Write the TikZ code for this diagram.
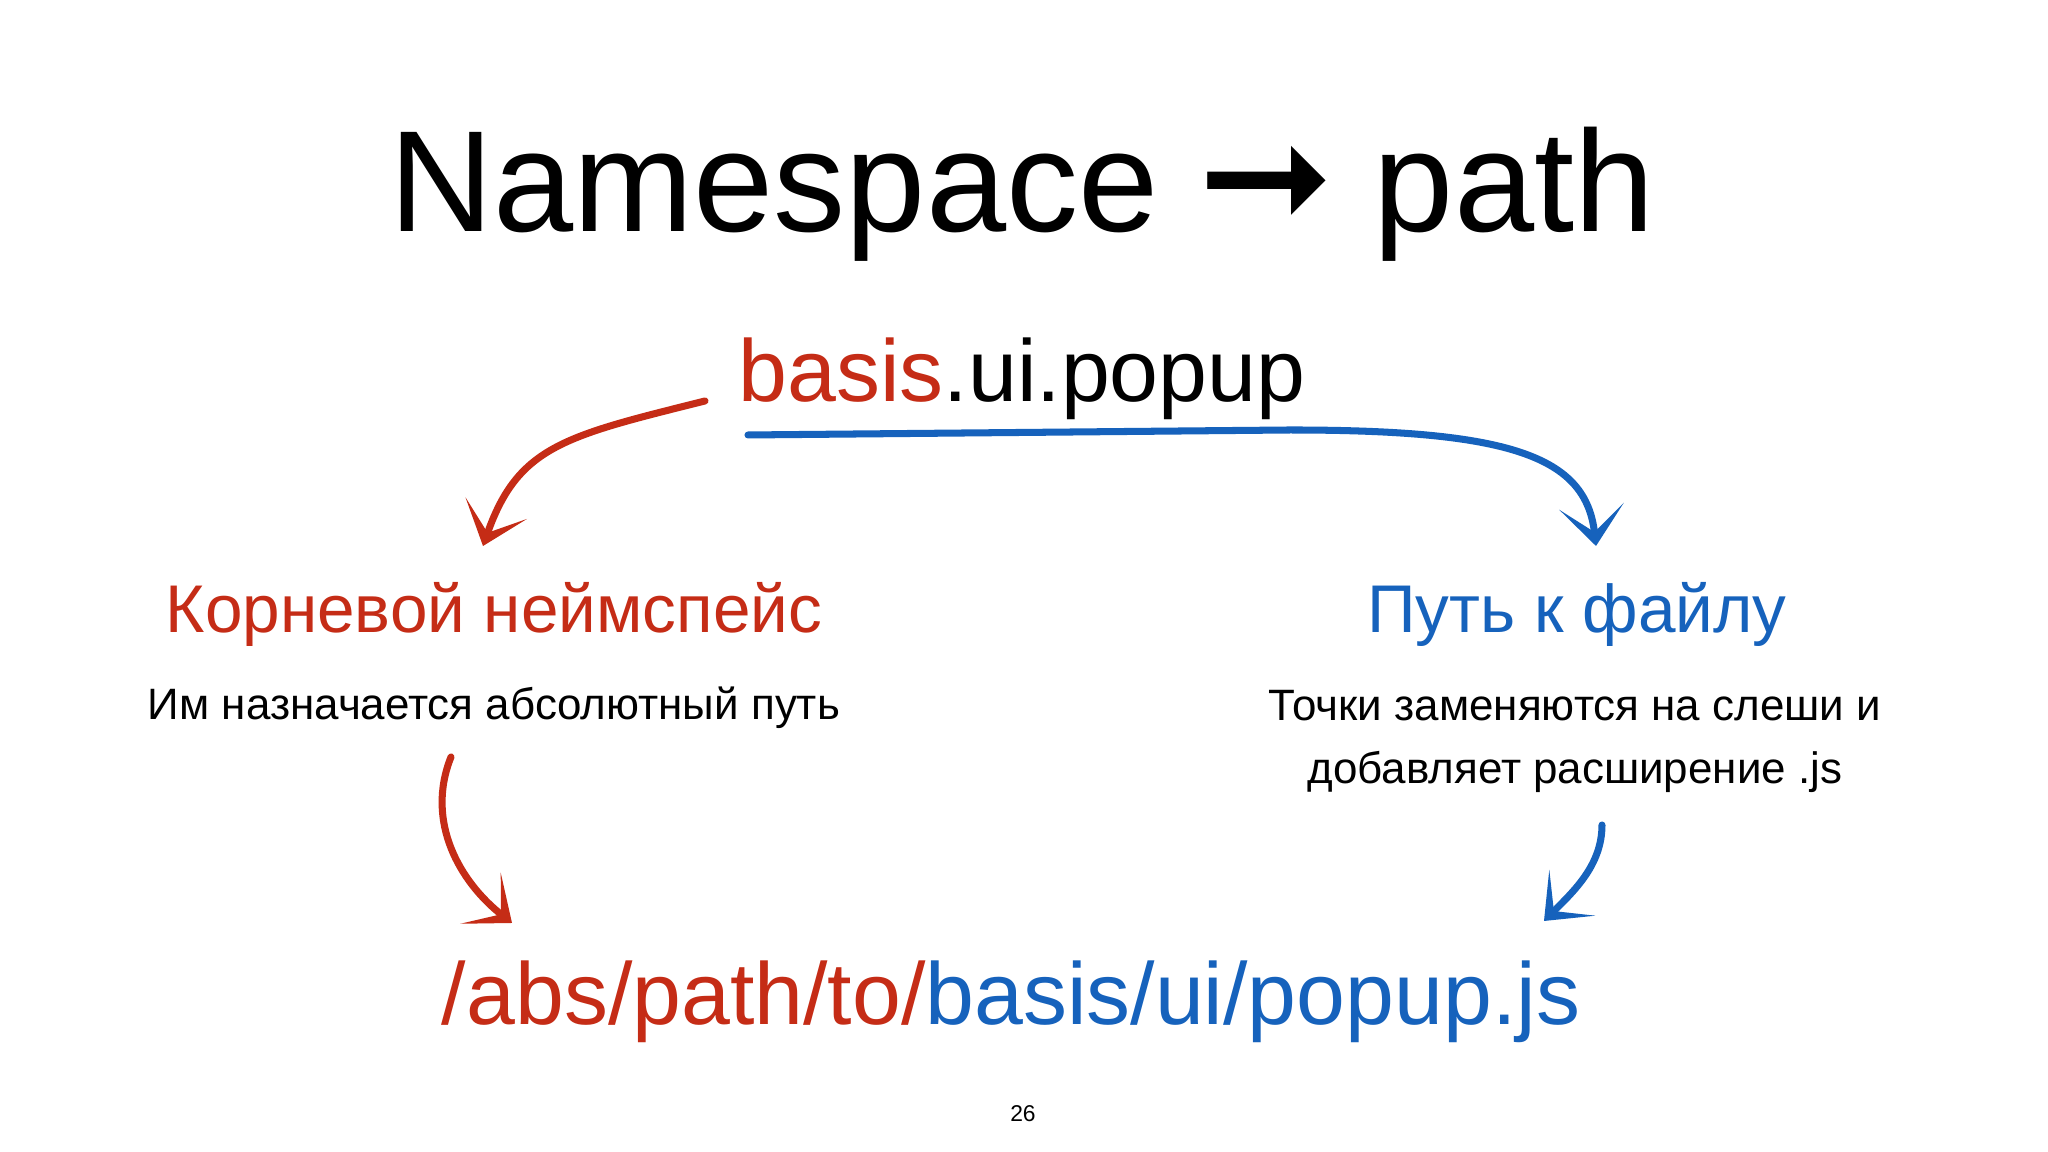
\documentclass[tikz,border=0pt]{standalone}
\usepackage{fontspec}
\setmainfont{Liberation Sans}
\newfontfamily\arrowfont{DejaVu Sans}
\usetikzlibrary{arrows.meta}

\definecolor{slidered}{RGB}{197,44,22}
\definecolor{slideblue}{RGB}{22,98,188}

\tikzset{
    brush/.style={line width=2pt, line cap=round, line join=round,
        -{Stealth[length=4mm, width=6.5mm, inset=2.6mm]}},
    label/.style={inner sep=0pt, anchor=base, align=center},
}

\begin{document}
\begin{tikzpicture}
    % Page and margins
    \fill[white] (0,0) rectangle (20.48,11.52);
    \useasboundingbox (0,0) rectangle (20.48,11.52);

    % Title
    \node[label, font=\fontsize{41}{48}\selectfont] (title) at (10.22,9.20)
        {Namespace {\arrowfont\fontsize{46}{46}\selectfont ➞} path};

    % Namespace
    \node[label, font=\fontsize{25}{30}\selectfont] (basis) at (10.22,7.50)
        {\textcolor{slidered}{basis}.ui.popup};

    % Root namespace (left) and file path (right)
    \node[label, slidered, font=\fontsize{19.2}{22}\selectfont] (root) at (4.94,5.19)
        {Корневой неймспейс};
    \node[label, font=\fontsize{12.5}{18.2}\selectfont] (rootdesc) at (4.94,4.32)
        {Им назначается абсолютный путь};
    \node[label, slideblue, font=\fontsize{19.2}{22}\selectfont] (file) at (15.77,5.19)
        {Путь к файлу};
    \node[label, font=\fontsize{12.5}{18.2}\selectfont] (filedesc) at (15.75,3.68)
        {Точки заменяются на слеши и\\добавляет расширение .js};

    % Result
    \node[label, font=\fontsize{25}{30}\selectfont] (result) at (10.11,1.27)
        {\textcolor{slidered}{/abs/path/to/}\textcolor{slideblue}{basis/ui/popup.js}};

    % Page number
    \node[label, font=\fontsize{6.5}{8}\selectfont] (page) at (10.23,0.30) {26};

    % Arrows
    \draw[brush, slidered] ([shift={(-3.17,0.01)}]basis.base)
        .. controls +(-1.4,-0.35) and +(0.35,1.0) .. ([shift={(-0.11,0.87)}]root.base);
    \draw[brush, slideblue] ([shift={(-2.74,-0.33)}]basis.base) -- ++(5.42,0.05)
        .. controls +(2.2,0) and +(-0.1,0.9) .. ([shift={(0.19,0.87)}]file.base);
    \draw[brush, slidered] ([shift={(-0.43,-0.37)}]rootdesc.base)
        .. controls +(-0.26,-0.65) and +(-0.52,0.41) .. ([shift={(-4.99,1.02)}]result.base);
    \draw[brush, slideblue] ([shift={(0.27,-0.41)}]filedesc.base)
        .. controls +(0,-0.4) and +(0.3,0.3) .. ([shift={(5.33,1.04)}]result.base);
\end{tikzpicture}
\end{document}
